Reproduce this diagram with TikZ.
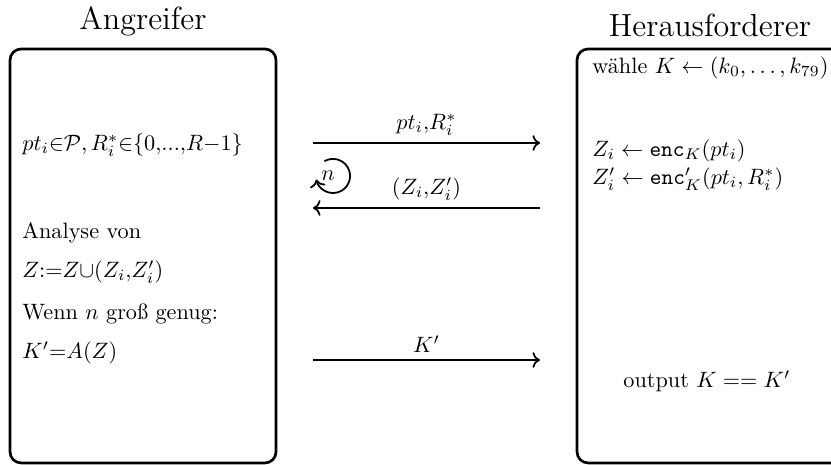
\documentclass[tikz,border=0pt]{standalone}
\usepackage{amsmath}
\usepackage{amssymb}
\usepackage{tikz}
\usetikzlibrary{positioning,arrows.meta,calc}

\begin{document}
\begin{tikzpicture}[
  party/.style={draw, very thick, rounded corners=5pt, minimum width=4.207cm, minimum height=6.547cm, inner sep=0pt},
  role/.style={font=\Large, inner sep=3.33pt},
  txt/.style={anchor=west, inner sep=0pt},
  msg/.style={->, thick},
  lbl/.style={above, inner sep=3pt},
]
\useasboundingbox (0,0) rectangle (13.142,7.338);
\def\xa{2.262} \def\xh{11.229} \def\yb{3.29}
\def\xt{0.348} \def\xc{9.362} \def\xl{4.95} \def\xr{8.54}
% the two parties
\node[party] (ang) at (\xa,\yb) {};
\node[party] (her) at (\xh,\yb) {};
\node[role, above=1.5pt of ang] (angt) {Angreifer};
\node[role, above=1.5pt of her] (hert) {Herausforderer};
% ---- attacker side ----
\node[txt] (sel) at (\xt,5.045) {$pt_i{\in}\mathcal{P}, R^*_i{\in}\{0{,}...{,}R{-}1\}$};
\node[txt] (ana) at (\xt,3.653) {Analyse von};
\node[txt] (upd) at (\xt,3.036) {$Z{:=}Z{\cup}(Z_i{,}Z'_i)$};
\node[txt] (cond) at (\xt,2.372) {Wenn $n$ groß genug:};
\node[txt] (guess) at (\xt,1.755) {$K'{=}A(Z)$};
% ---- challenger side ----
\node[txt] (keygen) at (\xc,6.263) {wähle $K \leftarrow (k_0, \dots, k_{79})$};
\node[txt] (encz) at (\xc,4.950) {$Z_i \leftarrow \texttt{enc}_K(pt_i)$};
\node[txt] (encr) at (\xc,4.507) {$Z'_i \leftarrow \texttt{enc}'_K(pt_i, R^*_i)$};
\node (out) at (11.18,1.313) {output $K == K'$};
% messages
\foreach \n/\y in {1/5.077, 2/4.049, 3/1.645}{ \coordinate (l\n) at (\xl,\y); \coordinate (r\n) at (\xr,\y); }
\draw[msg] (l1) -- node[lbl] (m1) {$pt_i{,}R^*_i$} (r1);
\draw[msg] (r2) -- node[lbl] (m2) {$(Z_i{,}Z'_i)$} (l2);
\draw[msg] (l3) -- node[lbl] (m3) {$K'$} (r3);
% repetition loop
\coordinate (loopc) at (5.266,4.555);
\node (rep) at (5.187,4.555) {$n$};
\draw[thick,->] ([shift={(120:0.27)}]loopc) arc[start angle=120, end angle=-168, radius=0.27];
\end{tikzpicture}
\end{document}
